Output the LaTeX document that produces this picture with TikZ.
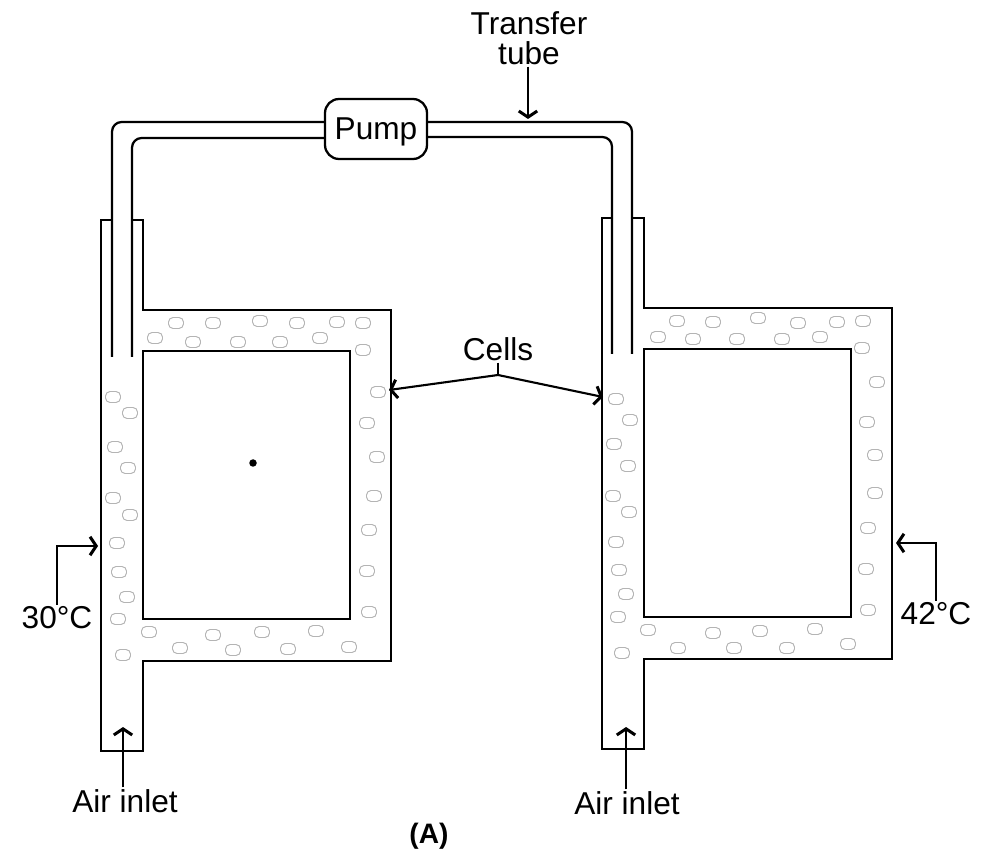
\documentclass[tikz,border=0pt]{standalone}
\usepackage{fontspec}
\setmainfont{Liberation Sans}
\usetikzlibrary{arrows.meta}
\definecolor{cellGRY}{HTML}{B4B4B4}
\newcommand{\fmtves}[2]{%
  \begin{scope}[shift={(#1,#2)}]
  \draw[wall] (112,220) -- (101,220) -- (101,751) -- (143,751) -- (143,661) -- (391,661)
    -- (391,310) -- (143,310) -- (143,220) -- (132,220);
  \draw[wall] (143,351) rectangle (350,619);
  \end{scope}}

\begin{document}
\begin{tikzpicture}[x=0.02cm, y=-0.02cm,
  wall/.style={draw, line width=1.3pt, line join=miter},
  tube/.style={draw, line width=1.3pt, rounded corners=5.5pt},
  lead/.style={draw, line width=1.2pt, -{Straight Barb[length=3.5pt,width=10.5pt,line width=1.7pt]}},
  lbl/.style={font=\fontsize{18}{17}\selectfont, align=center, inner sep=1pt},
  cellmark/.style={draw=cellGRY, line width=0.55pt, rounded corners=2.6pt, minimum width=0.3cm,
              minimum height=0.22cm, inner sep=0pt},
  pumpbox/.style={draw, line width=1.3pt, rounded corners=8pt, fill=white, minimum width=2.04cm,
              minimum height=1.2cm, inner sep=0pt, text depth=0pt, font=\fontsize{18}{21}\selectfont}]
\useasboundingbox (0,0) rectangle (994,854);
% cells
\foreach \x/\y [count=\i] in {176/323,213/323,260/321,297/323,337/322,363/323,155/338,193/342,238/342,
  280/342,320/338,363/350,113/397,130/413,115/447,128/468,113/498,130/515,117/543,119/572,127/597,
  118/619,123/655,149/632,213/635,262/632,316/631,180/648,233/650,288/649,349/647,378/392,367/423,
  377/457,374/496,369/530,367/571,369/612}
  {\node[cellmark] (cl\i) at (\x,\y) {};}
\foreach \x/\y [count=\i] in {677/321,713/322,758/318,798/323,837/322,863/321,658/337,693/339,737/339,
  782/339,820/337,862/348,877/382,867/422,875/455,875/493,616/399,630/420,614/444,628/466,613/496,
  629/512,616/542,619/570,626/594,618/617,622/653,648/630,713/633,760/631,815/629,678/648,734/648,
  787/648,848/644,868/528,866/569,868/610}
  {\node[cellmark] (cr\i) at (\x,\y) {};}
% vessels
\fmtves{0}{0}
\fmtves{501}{-2}
\node[circle, fill, minimum size=0.15cm, inner sep=0pt] (dot) at (253,463) {};
% pump and tube
\node[pumpbox] (pump) at (376,129) {Pump};
\coordinate (ltO) at (112,357);
\coordinate (ltI) at (132,357);
\coordinate (rtO) at (632,354);
\coordinate (rtI) at (612,354);
\path (pump.west) ++(0,-7) coordinate (pwO) ++(0,16) coordinate (pwI);
\path (pump.east) ++(0,-7) coordinate (peO) ++(0,15) coordinate (peI);
\draw[tube] (ltO) |- (pwO);
\draw[tube] (ltI) |- (pwI);
\draw[tube] (rtO) |- (peO);
\draw[tube] (rtI) |- (peI);
% labels
\node[lbl] (ttube) at (529,38) {Transfer\\tube};
\node[lbl] (cells) at (498,349) {Cells};
\node[lbl] (tcold) at (57,618) {30°C};
\node[lbl] (thot) at (936,614) {42°C};
\node[lbl] (airl) at (125,801) {Air inlet};
\node[lbl] (airr) at (627,803) {Air inlet};
\node[lbl, font=\fontsize{16}{19}\selectfont\bfseries] (capA) at (429,836) {(A)};
% arrows
\coordinate (cfork) at (498,375);
\coordinate (cwl) at (389,390);
\coordinate (cwr) at (603,397);
\draw[line width=1.2pt] (cells.south) -- (cfork);
\draw[lead] (cfork) -- (cwl);
\draw[lead] (cfork) -- (cwr);
\coordinate (tthead) at (528,119);
\draw[lead] (ttube.south -| tthead) -- (tthead);
\coordinate (cwall) at (98,546);
\coordinate (hwall) at (896,543);
\draw[lead] (tcold.north) |- (cwall);
\draw[lead] (thot.north) |- (hwall);
\coordinate (ahl) at (123,727);
\coordinate (ahr) at (626,727);
\draw[lead] (airl.north -| ahl) -- (ahl);
\draw[lead] (airr.north -| ahr) -- (ahr);
\end{tikzpicture}
\end{document}
